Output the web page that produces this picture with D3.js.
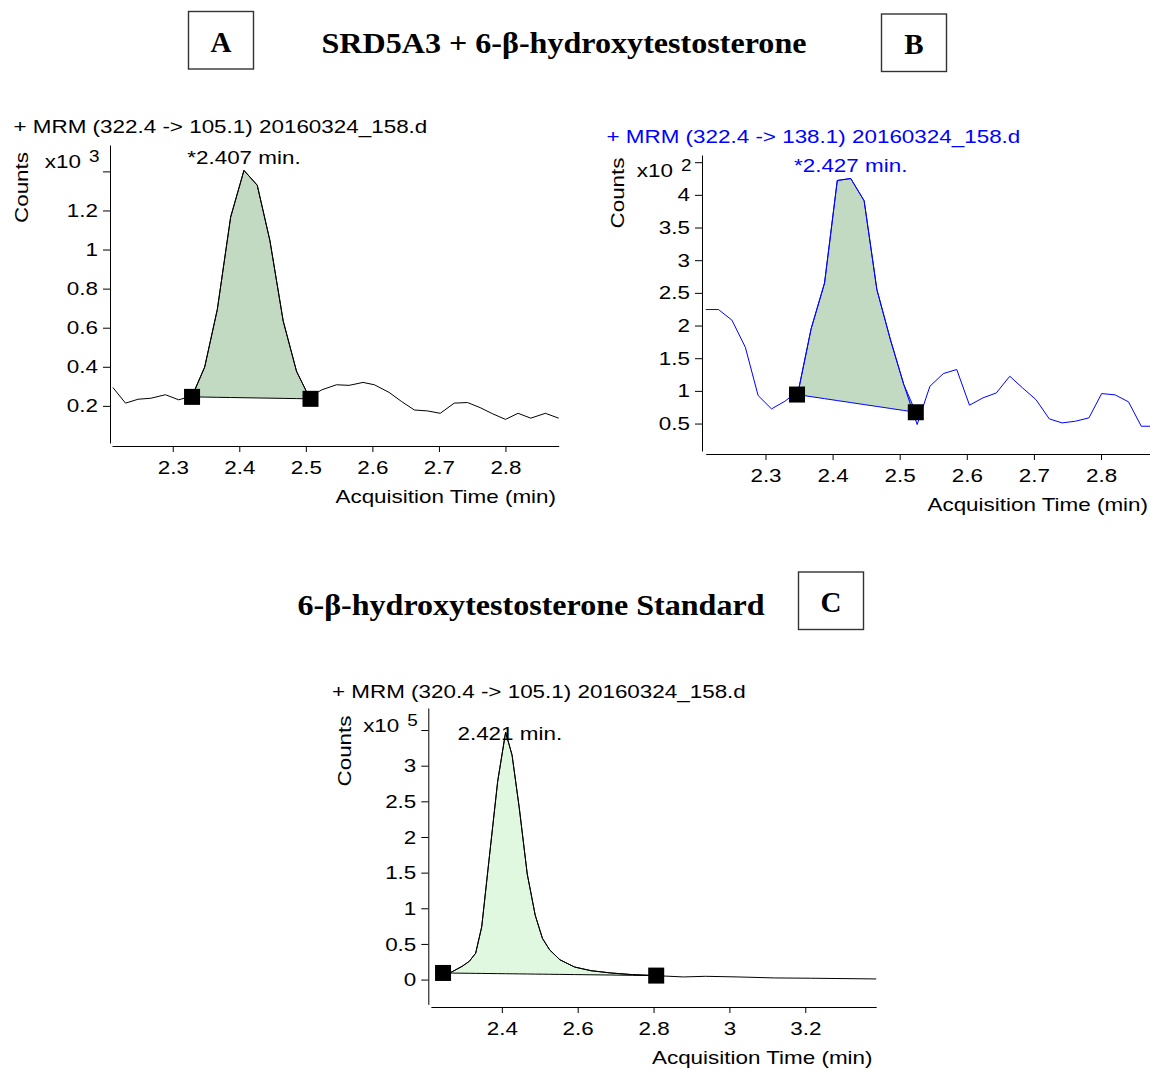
<!DOCTYPE html>
<html>
<head>
<meta charset="utf-8">
<script src="https://cdn.jsdelivr.net/npm/d3@7"></script>
<style>
body { margin: 0; background: #fff; }
svg { display: block; }
.sans { font-family: "Liberation Sans", Arial, sans-serif; font-size: 19px; }
.serif { font-family: "Liberation Serif", "Times New Roman", serif; font-weight: bold; font-size: 29px; }
</style>
</head>
<body>
<svg id="chart" width="1150" height="1070"></svg>
<script>
// Panel A : MRM 322.4 -> 105.1 (counts x10^3)
let aTime = [2.210, 2.229, 2.248, 2.267, 2.289, 2.309, 2.329, 2.348, 2.367, 2.387, 2.407, 2.427, 2.446, 2.466, 2.486, 2.505, 2.524, 2.546, 2.565, 2.586, 2.603, 2.625, 2.644, 2.663, 2.683, 2.702, 2.723, 2.743, 2.762, 2.781, 2.800, 2.819, 2.838, 2.860, 2.880]
let aCounts = [0.294, 0.214, 0.234, 0.239, 0.257, 0.231, 0.251, 0.399, 0.694, 1.166, 1.405, 1.329, 1.046, 0.634, 0.377, 0.245, 0.282, 0.308, 0.305, 0.320, 0.308, 0.269, 0.222, 0.179, 0.174, 0.162, 0.214, 0.217, 0.191, 0.159, 0.131, 0.162, 0.137, 0.162, 0.137]
let aMarkTime = [2.329, 2.507]
let aMarkCounts = [0.246, 0.236]
let aXTicks = [2.3, 2.4, 2.5, 2.6, 2.7, 2.8]
let aYTicks = [0.2, 0.4, 0.6, 0.8, 1, 1.2, 1.4]

// Panel B : MRM 322.4 -> 138.1 (counts x10^2)
let bTime = [2.211, 2.230, 2.250, 2.270, 2.289, 2.309, 2.329, 2.349, 2.368, 2.388, 2.407, 2.427, 2.447, 2.466, 2.486, 2.506, 2.526, 2.545, 2.565, 2.585, 2.604, 2.624, 2.644, 2.664, 2.683, 2.703, 2.723, 2.742, 2.762, 2.782, 2.801, 2.821, 2.841, 2.860, 2.880]
let bCounts = [2.245, 2.245, 2.082, 1.668, 0.929, 0.724, 0.842, 1.00, 1.95, 2.65, 4.22, 4.25, 3.91, 2.55, 1.79, 1.10, 0.485, 1.07, 1.265, 1.327, 0.781, 0.893, 0.969, 1.224, 1.046, 0.867, 0.571, 0.510, 0.536, 0.587, 0.959, 0.939, 0.832, 0.459, 0.459]
let bMarkTime = [2.347, 2.524]
let bMarkCounts = [0.944, 0.673]
let bXTicks = [2.3, 2.4, 2.5, 2.6, 2.7, 2.8]
let bYTicks = [0.5, 1, 1.5, 2, 2.5, 3, 3.5, 4, 4.5]

// Panel C : MRM 320.4 -> 105.1 (counts x10^5)
let cTime = [2.245, 2.266, 2.295, 2.314, 2.331, 2.347, 2.366, 2.389, 2.410, 2.427, 2.446, 2.467, 2.488, 2.507, 2.526, 2.553, 2.592, 2.635, 2.687, 2.745, 2.807, 2.879, 2.937, 3.023, 3.119, 3.214, 3.387]
let cCounts = [0.093, 0.102, 0.185, 0.255, 0.370, 0.741, 1.667, 2.778, 3.47, 3.148, 2.407, 1.481, 0.903, 0.579, 0.417, 0.278, 0.176, 0.125, 0.093, 0.069, 0.055, 0.037, 0.046, 0.037, 0.023, 0.019, 0.009]
let cMarkTime = [2.245, 2.807]
let cMarkCounts = [0.093, 0.056]
let cXTicks = [2.4, 2.6, 2.8, 3, 3.2]
let cYTicks = [0, 0.5, 1, 1.5, 2, 2.5, 3, 3.5]

let svg = d3.select('#chart')
let stretch = 1.18

function drawPanel(p) {
    let g = svg.append('g')

    // Scales
    let x = d3.scaleLinear().domain(p.xDomain).range(p.xRange)
    let y = d3.scaleLinear().domain(p.yDomain).range(p.yRange)

    let data = p.time.map((t, i) => ({ t: t, v: p.counts[i] }))
    let marks = p.markTime.map((t, i) => ({ t: t, v: p.markCounts[i] }))

    // integration baseline between the two markers
    let base = t => marks[0].v + (marks[1].v - marks[0].v) * (t - marks[0].t) / (marks[1].t - marks[0].t)
    let peak = [marks[0]].concat(data.filter(d => d.t > marks[0].t && d.t < marks[1].t), [marks[1]])

    // Peak fill
    let area = d3.area()
        .x(d => x(d.t))
        .y0(d => y(base(d.t)))
        .y1(d => y(d.v))
    g.append('path')
        .datum(peak)
        .attr('d', area)
        .attr('fill', p.fill)
        .attr('stroke', p.color)
        .attr('stroke-width', 1)

    // Trace
    let line = d3.line()
        .x(d => x(d.t))
        .y(d => y(d.v))
    g.append('path')
        .datum(data)
        .attr('d', line)
        .attr('fill', 'none')
        .attr('stroke', p.color)
        .attr('stroke-width', 1)

    // Y axis
    let yAxis = d3.axisLeft(y)
        .tickValues(p.yTicks)
        .tickSize(7)
        .tickSizeOuter(0)
        .tickPadding(5)
        .tickFormat((d, i) => i === p.yTicks.length - 1 ? '' : String(d))
    g.append('g')
        .attr('transform', `translate(${p.yAxisX},0)`)
        .call(yAxis)
        .attr('font-family', null)
        .attr('font-size', null)
        .attr('class', 'sans')

    // X axis
    let xAxis = d3.axisBottom(x)
        .tickValues(p.xTicks)
        .tickSize(6)
        .tickSizeOuter(0)
        .tickPadding(9)
        .tickFormat(d => String(d))
    g.append('g')
        .attr('transform', `translate(0,${p.xAxisY})`)
        .call(xAxis)
        .attr('font-family', null)
        .attr('font-size', null)
        .attr('class', 'sans')

    g.selectAll('.domain, .tick line').attr('stroke', '#000')

    // Markers
    g.selectAll('rect.mark')
        .data(marks)
        .enter()
        .append('rect')
        .attr('class', 'mark')
        .attr('x', d => x(d.t) - 8)
        .attr('y', d => y(d.v) - 8)
        .attr('width', 16)
        .attr('height', 16)
        .attr('fill', '#000')

    // Title
    g.append('text')
        .attr('class', 'sans')
        .attr('x', p.titleX)
        .attr('y', p.titleY)
        .attr('fill', p.color)
        .text(p.title)

    // Peak label
    g.append('text')
        .attr('class', 'sans')
        .attr('x', x(p.peakTime))
        .attr('y', p.peakLabelY)
        .attr('text-anchor', 'middle')
        .attr('fill', p.color)
        .text(p.peakLabel)

    // Exponent
    g.append('text')
        .attr('class', 'sans')
        .attr('x', p.yAxisX - 29)
        .attr('y', p.expY)
        .attr('text-anchor', 'end')
        .text('x10')
    g.append('text')
        .attr('class', 'sans')
        .attr('x', p.yAxisX - 21)
        .attr('y', p.expY - 6.5)
        .style('font-size', '16px')
        .text(p.exponent)

    // Y label
    g.append('text')
        .attr('class', 'sans')
        .attr('transform', `translate(${p.countsX},${p.countsY}) rotate(-90)`)
        .attr('text-anchor', 'middle')
        .text('Counts')

    // X label
    g.append('text')
        .attr('class', 'sans')
        .attr('x', p.xLabelX)
        .attr('y', p.xLabelY)
        .attr('text-anchor', 'end')
        .text('Acquisition Time (min)')
}

drawPanel({
    time: aTime, counts: aCounts, markTime: aMarkTime, markCounts: aMarkCounts,
    xTicks: aXTicks, yTicks: aYTicks,
    xDomain: [2.2087, 2.880], xRange: [112, 558.7],
    yDomain: [0.01, 1.535], yRange: [443, 145],
    yAxisX: 110, xAxisY: 446,
    color: '#000', fill: '#c2dac2',
    title: '+ MRM (322.4 -> 105.1) 20160324_158.d', titleX: 13.5, titleY: 133,
    peakTime: 2.407, peakLabel: '*2.407 min.', peakLabelY: 163.5,
    exponent: '3', expY: 168,
    countsX: 28, countsY: 187.5,
    xLabelX: 556, xLabelY: 503
})

drawPanel({
    time: bTime, counts: bCounts, markTime: bMarkTime, markCounts: bMarkCounts,
    xTicks: bXTicks, yTicks: bYTicks,
    xDomain: [2.2109, 2.873], xRange: [705.7, 1150],
    yDomain: [0.08, 4.61], yRange: [451, 155],
    yAxisX: 702, xAxisY: 454,
    color: '#0000ff', fill: '#c2dac2',
    title: '+ MRM (322.4 -> 138.1) 20160324_158.d', titleX: 606.5, titleY: 142.5,
    peakTime: 2.427, peakLabel: '*2.427 min.', peakLabelY: 172,
    exponent: '2', expY: 177,
    countsX: 624, countsY: 193,
    xLabelX: 1148, xLabelY: 511
})

drawPanel({
    time: cTime, counts: cCounts, markTime: cMarkTime, markCounts: cMarkCounts,
    xTicks: cXTicks, yTicks: cYTicks,
    xDomain: [2.213, 3.387], xRange: [430.9, 876.2],
    yDomain: [-0.348, 3.809], yRange: [1004.4, 708],
    yAxisX: 428.3, xAxisY: 1007,
    color: '#000', fill: '#e0f8e0',
    title: '+ MRM (320.4 -> 105.1) 20160324_158.d', titleX: 332, titleY: 697.5,
    peakTime: 2.421, peakLabel: '2.421 min.', peakLabelY: 739.5,
    exponent: '5', expY: 732,
    countsX: 350.5, countsY: 751,
    xLabelX: 872.5, xLabelY: 1064
})

// widen the sans text like the instrument export
svg.selectAll('.sans text, text.sans').each(function() {
    let w = this.getComputedTextLength()
    if (w > 0) {
        d3.select(this)
            .attr('textLength', w * stretch)
            .attr('lengthAdjust', 'spacingAndGlyphs')
    }
})

// Headings and panel letters
let boxes = [
    { letter: 'A', x: 188.5, y: 11.5 },
    { letter: 'B', x: 881.5, y: 14 },
    { letter: 'C', x: 798.5, y: 572 }
]
svg.selectAll('rect.box')
    .data(boxes)
    .enter()
    .append('rect')
    .attr('class', 'box')
    .attr('x', d => d.x)
    .attr('y', d => d.y)
    .attr('width', 65)
    .attr('height', 57.5)
    .attr('fill', 'none')
    .attr('stroke', '#333')
    .attr('stroke-width', 1.4)
svg.selectAll('text.letter')
    .data(boxes)
    .enter()
    .append('text')
    .attr('class', 'serif letter')
    .attr('x', d => d.x + 32.5)
    .attr('y', d => d.y + 40)
    .attr('text-anchor', 'middle')
    .text(d => d.letter)

svg.append('text')
    .attr('class', 'serif')
    .attr('x', 564)
    .attr('y', 53)
    .attr('text-anchor', 'middle')
    .attr('textLength', 485)
    .attr('lengthAdjust', 'spacingAndGlyphs')
    .text('SRD5A3 + 6-β-hydroxytestosterone')

svg.append('text')
    .attr('class', 'serif')
    .attr('x', 531)
    .attr('y', 615)
    .attr('text-anchor', 'middle')
    .attr('textLength', 467)
    .attr('lengthAdjust', 'spacingAndGlyphs')
    .text('6-β-hydroxytestosterone Standard')
</script>
</body>
</html>
